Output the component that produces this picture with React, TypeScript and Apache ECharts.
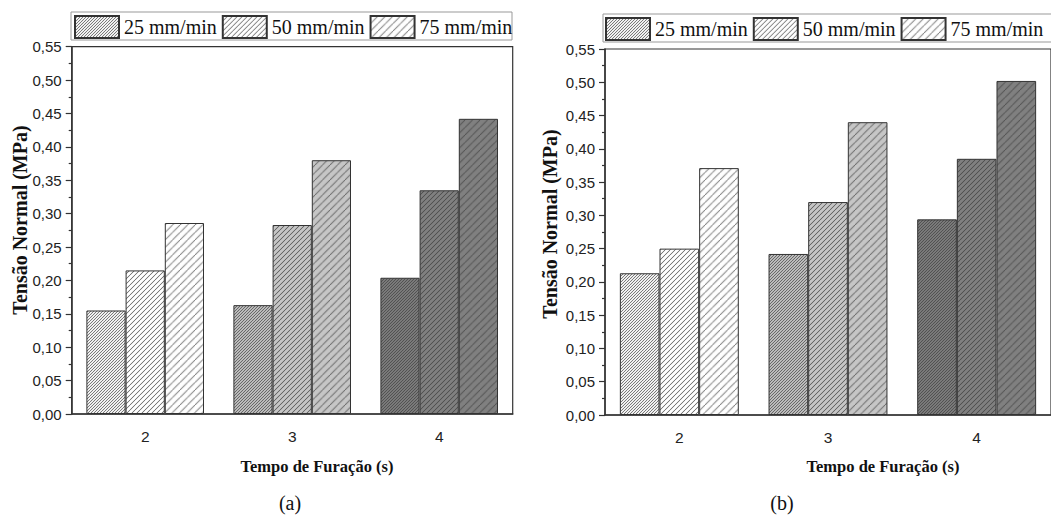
import React, { useEffect, useRef } from "react";
import * as echarts from "echarts";

const categories = ["2", "3", "4"];
const seriesNames = ["25 mm/min", "50 mm/min", "75 mm/min"];
const panelA25 = [0.155, 0.163, 0.204];
const panelA50 = [0.215, 0.283, 0.335];
const panelA75 = [0.286, 0.380, 0.442];
const panelB25 = [0.213, 0.242, 0.294];
const panelB50 = [0.250, 0.320, 0.385];
const panelB75 = [0.371, 0.440, 0.502];
const groupColors = ["#ffffff", "#c6c6c6", "#808080"];
const hatchSpacing = [3, 5, 7.5];

const fmt = (v: number) => v.toFixed(2).replace(".", ",");

const RES = 4;
function makePattern(bg: string, spacing: number) {
  const s = Math.round(spacing * RES);
  const c = document.createElement("canvas");
  c.width = s;
  c.height = s;
  const ctx = c.getContext("2d")!;
  ctx.fillStyle = bg;
  ctx.fillRect(0, 0, s, s);
  ctx.strokeStyle = "#3c3c3c";
  ctx.lineWidth = 0.6 * RES;
  ctx.beginPath();
  for (let k = -1; k <= 1; k++) {
    ctx.moveTo(k * s, s);
    ctx.lineTo(k * s + s, 0);
  }
  ctx.stroke();
  return { image: c, repeat: "repeat", scaleX: 1 / RES, scaleY: 1 / RES };
}

function makeSeries(values: number[], idx: number, axis: number) {
  return {
    type: "bar",
    name: seriesNames[idx],
    xAxisIndex: axis,
    yAxisIndex: axis,
    barGap: "0%",
    barCategoryGap: "20%",
    itemStyle: {
      color: makePattern("#ffffff", hatchSpacing[idx]),
      borderColor: "#333333",
      borderWidth: 1,
    },
    data: values.map((v, i) => ({
      value: v,
      itemStyle: { color: makePattern(groupColors[i], hatchSpacing[idx]) },
    })),
  };
}

export default function App() {
  const ref = useRef<HTMLDivElement>(null);
  useEffect(() => {
    if (!ref.current) return;
    const chart = echarts.init(ref.current, undefined, { renderer: "svg" });
    const sans = "'Liberation Sans', Arial, sans-serif";
    const serif = "'Liberation Serif', 'Times New Roman', serif";
    const grids = [
      { left: 71.7, top: 46.7, width: 441, height: 367.3 },
      { left: 605, top: 49, width: 453, height: 366 },
    ];
    const xAxes = grids.map((_, i) => ({
      type: "category",
      gridIndex: i,
      data: categories,
      axisLine: { lineStyle: { color: "#333", width: 1.5 } },
      axisTick: { alignWithLabel: true, length: 5, lineStyle: { color: "#333", width: 1.2 } },
      axisLabel: { color: "#222", fontFamily: sans, fontSize: 15.5, margin: 14 },
    }));
    const yAxes = grids.map((_, i) => ({
      type: "value",
      gridIndex: i,
      min: 0,
      max: 0.55,
      interval: 0.05,
      splitLine: { show: false },
      axisLine: { show: true, lineStyle: { color: "#333", width: 1.5 } },
      axisTick: { show: true, length: 6, lineStyle: { color: "#333", width: 1.2 } },
      minorTick: { show: true, splitNumber: 2, length: 3, lineStyle: { color: "#333", width: 1.2 } },
      axisLabel: { color: "#222", fontFamily: sans, fontSize: 15, margin: 10, formatter: fmt },
    }));
    const legendBase = {
      orient: "horizontal",
      itemWidth: 44,
      itemHeight: 22,
      itemGap: 5,
      icon: "rect",
      padding: 0,
      textStyle: { fontFamily: serif, fontSize: 20, color: "#111" },
      data: seriesNames,
      selectedMode: false,
    };
    const boxStyle = { fill: "#fff", stroke: "#999", lineWidth: 1 };
    chart.setOption({
      animation: false,
      backgroundColor: "#ffffff",
      grid: grids.map((g) => ({ ...g, show: true, borderColor: "#333", borderWidth: 1.2, backgroundColor: "transparent" })),
      xAxis: xAxes,
      yAxis: yAxes,
      legend: [
        { ...legendBase, left: 74, top: 15, width: 460 },
        { ...legendBase, left: 605, top: 17, width: 446 },
      ],
      series: [
        makeSeries(panelA25, 0, 0),
        makeSeries(panelA50, 1, 0),
        makeSeries(panelA75, 2, 0),
        makeSeries(panelB25, 0, 1),
        makeSeries(panelB50, 1, 1),
        makeSeries(panelB75, 2, 1),
      ],
      graphic: [
        { type: "rect", z: -10, shape: { x: 71, y: 12, width: 441, height: 28 }, style: boxStyle },
        { type: "rect", z: -10, shape: { x: 603, y: 14, width: 470, height: 28 }, style: boxStyle },
        {
          type: "text",
          x: 20,
          y: 220,
          rotation: Math.PI / 2,
          style: { text: "Tensão Normal (MPa)", font: `bold 20px ${serif}`, fill: "#111", align: "center", verticalAlign: "middle" },
        },
        {
          type: "text",
          x: 550,
          y: 224,
          rotation: Math.PI / 2,
          style: { text: "Tensão Normal (MPa)", font: `bold 20px ${serif}`, fill: "#111", align: "center", verticalAlign: "middle" },
        },
        {
          type: "text",
          x: 317,
          y: 466,
          style: { text: "Tempo de Furação (s)", font: `bold 16.5px ${serif}`, fill: "#111", align: "center", verticalAlign: "middle" },
        },
        {
          type: "text",
          x: 883,
          y: 466,
          style: { text: "Tempo de Furação (s)", font: `bold 16.5px ${serif}`, fill: "#111", align: "center", verticalAlign: "middle" },
        },
        {
          type: "text",
          x: 290,
          y: 503,
          style: { text: "(a)", font: `20px ${serif}`, fill: "#111", align: "center", verticalAlign: "middle" },
        },
        {
          type: "text",
          x: 782,
          y: 503,
          style: { text: "(b)", font: `20px ${serif}`, fill: "#111", align: "center", verticalAlign: "middle" },
        },
      ],
    });
    return () => chart.dispose();
  }, []);
  return (
    <div
      ref={ref}
      style={{ position: "fixed", left: 0, top: 0, width: 1051, height: 522, background: "#fff" }}
    />
  );
}
